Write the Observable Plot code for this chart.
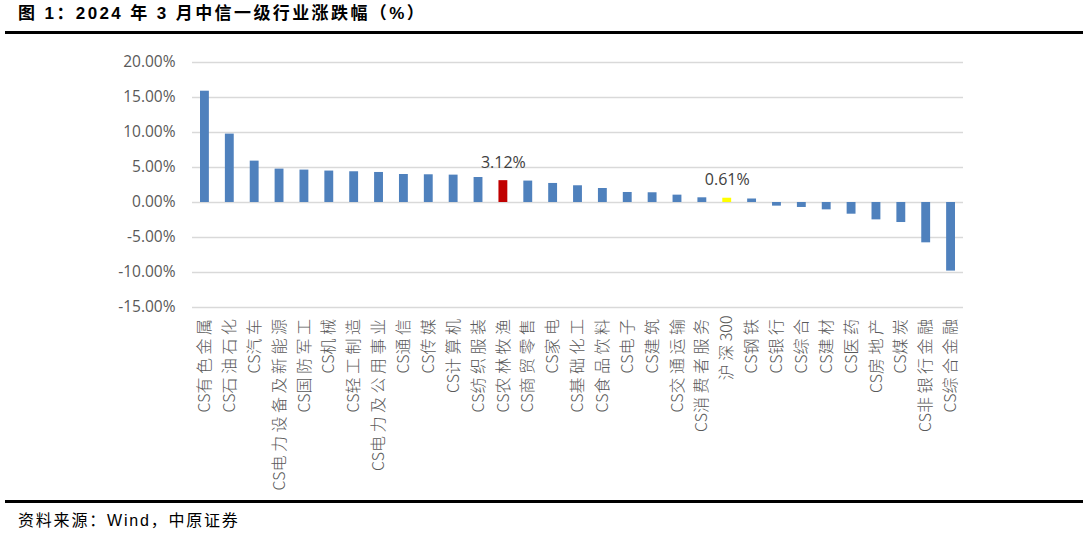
<!DOCTYPE html>
<html>
<head>
<meta charset="utf-8">
<script src="https://cdn.jsdelivr.net/npm/d3@7"></script>
<script src="https://cdn.jsdelivr.net/npm/@observablehq/plot@0.6"></script>
<style>
  html, body { margin: 0; padding: 0; background: #fff; }
  #wrap { position: relative; width: 1088px; height: 534px; overflow: hidden; background: #fff; }
  #title { position: absolute; left: 18px; top: 3px; font-family: "Liberation Sans", "Noto Sans CJK SC", sans-serif; font-weight: bold; font-size: 17px; letter-spacing: 2.4px; line-height: 22px; color: #000; white-space: nowrap; }
  .rule { position: absolute; left: 5px; width: 1078px; height: 3px; background: #000; }
  #chart { position: absolute; left: 0; top: 36px; }
  #caption { position: absolute; left: 18px; top: 511px; font-family: "Liberation Sans", "Noto Sans CJK SC", sans-serif; font-size: 16px; letter-spacing: 1.8px; line-height: 20px; color: #000; white-space: nowrap; }
</style>
</head>
<body>
<div id="wrap">
  <div id="title">图 1：2024 年 3 月中信一级行业涨跌幅（%）</div>
  <div class="rule" style="top:31px"></div>
  <div id="chart"></div>
  <div class="rule" style="top:500px"></div>
  <div id="caption">资料来源：Wind，中原证券</div>
</div>
<script>
const categories = ["CS有色金属","CS石油石化","CS汽车","CS电力设备及新能源","CS国防军工","CS机械","CS轻工制造","CS电力及公用事业","CS通信","CS传媒","CS计算机","CS纺织服装","CS农林牧渔","CS商贸零售","CS家电","CS基础化工","CS食品饮料","CS电子","CS建筑","CS交通运输","CS消费者服务","沪深300","CS钢铁","CS银行","CS综合","CS建材","CS医药","CS房地产","CS煤炭","CS非银行金融","CS综合金融"];
const values = [15.9,9.77,5.91,4.77,4.63,4.49,4.39,4.29,4.0,3.96,3.91,3.57,3.12,3.06,2.72,2.39,2.0,1.43,1.39,1.05,0.67,0.61,0.5,-0.52,-0.71,-1.05,-1.67,-2.48,-2.86,-5.76,-9.8];
const highlightRed = ["CS农林牧渔"];
const highlightYellow = ["沪深300"];
const labeled = ["CS农林牧渔","沪深300"];
const yTicks = [-15,-10,-5,0,5,10,15,20];

const data = categories.map((name, i) => ({name, value: values[i]}));
const fmt = d => d.toFixed(2) + "%";

const chart = Plot.plot({
  width: 1088,
  height: 462,
  marginTop: 26,
  marginBottom: 191,
  marginLeft: 192,
  marginRight: 125,
  style: { background: "white", color: "#595959" },
  x: { domain: categories, padding: 0, round: false },
  y: { domain: [-15, 20] },
  color: { type: "identity" },
  marks: [
    Plot.ruleY(yTicks, { stroke: "#D9D9D9", strokeWidth: 1.5 }),
    Plot.barY(data, {
      x: "name", y: "value", insetLeft: 8, insetRight: 8,
      fill: d => highlightRed.includes(d.name) ? "#C00000" : highlightYellow.includes(d.name) ? "#FFFF00" : "#4F81BD"
    }),
    Plot.text(data.filter(d => labeled.includes(d.name)), {
      x: "name", y: "value", text: d => fmt(d.value),
      dy: -13, lineAnchor: "bottom", fill: "#404040",
      fontSize: 16, fontFamily: "Open Sans"
    }),
    Plot.axisY(yTicks, {
      tickSize: 0, tickPadding: 17, tickFormat: fmt, label: null,
      fontSize: 15.5, fontFamily: "Open Sans", fill: "#595959"
    }),
    Plot.axisX({
      tickSize: 0, tickPadding: 8, tickRotate: -90, label: null,
      fontSize: 16, fontFamily: "Noto Sans CJK SC", fontWeight: 300, fill: "#595959"
    })
  ]
});
document.getElementById("chart").appendChild(chart);

// Space out CJK characters in the category labels (Latin runs stay tight)
chart.querySelectorAll('[aria-label="x-axis tick label"] text').forEach(t => {
  const s = t.textContent;
  const runs = s.match(/[A-Za-z0-9]+|[^A-Za-z0-9]+/g) || [];
  t.textContent = "";
  runs.forEach(r => {
    const ts = document.createElementNS("http://www.w3.org/2000/svg", "tspan");
    ts.textContent = r;
    if (!/^[A-Za-z0-9]+$/.test(r)) ts.setAttribute("letter-spacing", "3.5");
    t.appendChild(ts);
  });
});
</script>
</body>
</html>
